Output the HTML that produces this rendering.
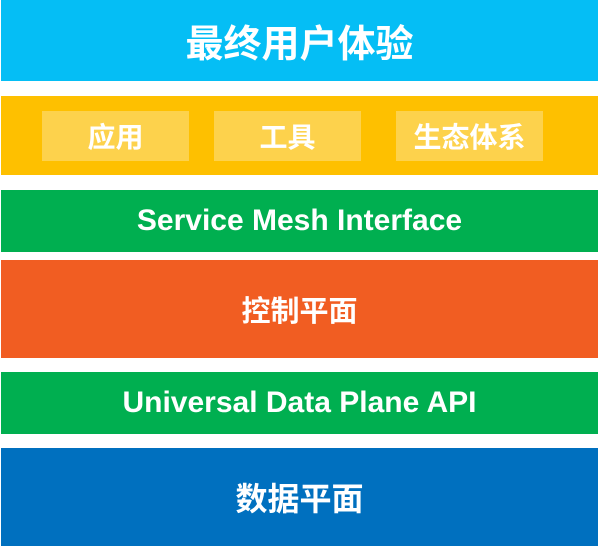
<!DOCTYPE html>
<html><head><meta charset="utf-8"><style>
html,body{margin:0;padding:0;background:#fff;width:600px;height:546px;overflow:hidden;position:relative}
.b{position:absolute;left:1px;width:597px;display:flex;align-items:center;justify-content:center;color:#fff;font-weight:bold;font-family:"Liberation Sans","Noto Sans CJK SC",sans-serif}
.i{position:absolute;top:111px;height:50px;width:147px;background:#FDD24C;display:flex;align-items:center;justify-content:center;color:#fff;font-weight:bold;font-size:28px;font-family:"Noto Sans CJK SC",sans-serif}
</style></head><body>
<div class="b" style="top:0;height:81px;background:#05BEF5;font-size:38px;font-family:'Noto Sans CJK SC',sans-serif">最终用户体验</div>
<div class="b" style="top:96px;height:79px;background:#FEC000"></div>
<div class="i" style="left:42px">应用</div>
<div class="i" style="left:214px">工具</div>
<div class="i" style="left:396px">生态体系</div>
<div class="b" style="top:190px;height:62px;background:#00AF50;font-size:30px">Service Mesh Interface</div>
<div class="b" style="top:260px;height:98px;background:#F15D22;font-size:29px;font-family:'Noto Sans CJK SC',sans-serif">控制平面</div>
<div class="b" style="top:372px;height:62px;background:#00AF50;font-size:30px">Universal Data Plane API</div>
<div class="b" style="top:448px;height:98px;background:#0070BF;font-size:32px;font-family:'Noto Sans CJK SC',sans-serif">数据平面</div>
</body></html>
